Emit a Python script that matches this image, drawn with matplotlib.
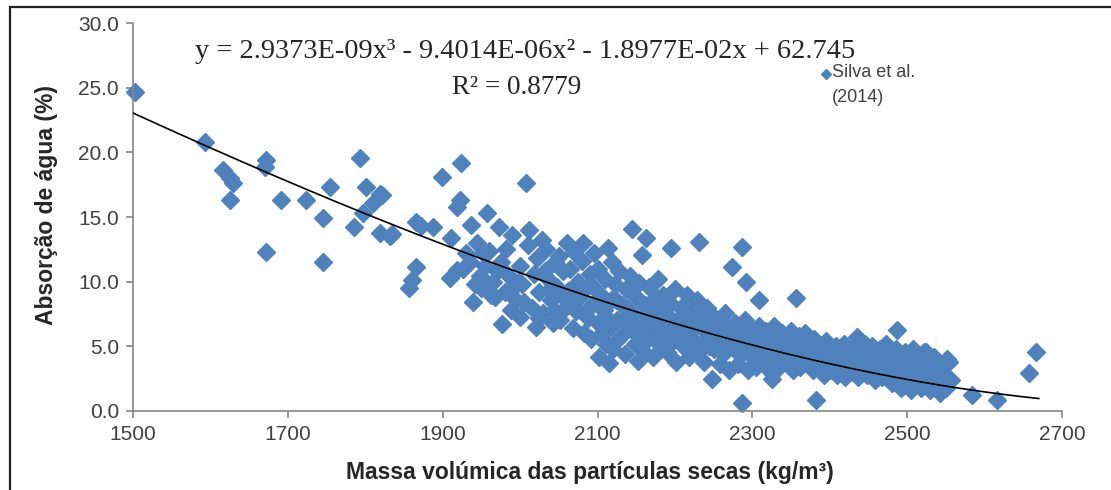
import numpy as np
import matplotlib.pyplot as plt
from matplotlib.lines import Line2D
from matplotlib.patches import Rectangle

# dry particle density (kg/m3) and water absorption (%)
dens_left = [1503, 1593, 1616, 1625, 1629, 1625, 1672, 1670, 1672, 1691, 1723, 1745, 1745, 1754,
             1786, 1797, 1793, 1801, 1810, 1819, 1819, 1822, 1832, 1835]
abs_left = [24.7, 20.8, 18.6, 18.0, 17.6, 16.3, 19.4, 18.9, 12.3, 16.3, 16.3, 11.5, 14.9, 17.3,
            14.2, 15.3, 19.6, 17.3, 16.1, 16.8, 13.8, 16.7, 13.5, 13.7]

dens_mid = [1857, 1861, 1866, 1866, 1872, 1887, 1899, 1909, 1911, 1918, 1918, 1922, 1924, 1930,
            1935, 1937, 1939, 1944, 1948, 1950, 1955, 1957, 1960, 1965, 1968, 1973, 1975, 1977,
            1980, 1982, 1985, 1988, 1990, 1995, 2000, 2000, 2003, 2008, 2010, 2012, 2015, 2018,
            2020, 2022, 2025, 2028, 2030, 2034, 2036, 2040, 2042, 2045, 2048,
            1926, 1942, 1952, 1963, 1970, 1992, 1998, 2005, 2024, 2032, 2038, 2044]
abs_mid = [9.5, 10.1, 11.1, 14.6, 14.3, 14.2, 18.1, 10.3, 13.4, 10.9, 15.8, 16.3, 19.2, 12.2,
           11.5, 14.4, 8.4, 13.0, 10.4, 9.5, 11.2, 15.3, 12.4, 10.0, 8.8, 14.2, 11.5, 6.7,
           9.2, 12.5, 10.5, 7.8, 13.6, 8.6, 7.3, 11.2, 9.8, 17.6, 12.8, 14.0, 8.0, 10.6,
           6.5, 11.8, 9.2, 13.2, 7.6, 12.5, 10.2, 8.6, 6.8, 11.5, 9.6,
           11.0, 9.8, 12.2, 9.0, 10.8, 9.6, 10.0, 8.4, 7.2, 10.8, 9.4, 7.8]

dens_band = [2050, 2052, 2055, 2058, 2060, 2062, 2065, 2068, 2070, 2072, 2075, 2078, 2080, 2081,
             2083, 2085, 2088, 2090, 2092, 2095, 2097, 2100, 2100, 2102, 2105, 2108, 2110, 2111,
             2113, 2115, 2115, 2118, 2119, 2120, 2122, 2125, 2128, 2130, 2132, 2135, 2137, 2140,
             2142, 2144, 2145, 2148, 2150, 2152, 2154, 2155, 2157, 2158, 2160, 2162, 2163, 2165,
             2167, 2170, 2172, 2175, 2178, 2180, 2182, 2185, 2188, 2190, 2192, 2195, 2196, 2198,
             2200, 2202, 2205, 2208, 2210, 2212, 2215, 2218, 2220, 2222, 2225, 2228, 2230, 2231,
             2233, 2236, 2238, 2240, 2242, 2245, 2248, 2250, 2252, 2255, 2258, 2260, 2262, 2265,
             2268, 2270, 2272, 2274, 2276, 2278, 2280, 2282, 2285, 2287, 2287, 2288, 2290, 2292,
             2293, 2295, 2298, 2300, 2302, 2305, 2308, 2309, 2310, 2313, 2315, 2318, 2320, 2322,
             2325, 2326, 2328, 2330, 2333, 2335, 2338, 2340, 2343, 2345, 2348, 2350, 2352, 2355,
             2357, 2358, 2360, 2362, 2365, 2368, 2370, 2372, 2375, 2378, 2380, 2382, 2383, 2385,
             2388, 2390, 2393, 2395, 2398, 2400, 2403, 2405, 2408, 2410, 2412, 2415, 2418, 2420,
             2423, 2425, 2428, 2430, 2433, 2435, 2437, 2440, 2442, 2445, 2448, 2450, 2452, 2455,
             2458, 2460, 2462, 2465, 2468, 2470, 2473, 2475, 2478, 2480, 2483, 2485, 2487, 2488,
             2490, 2492, 2495, 2497, 2500, 2502, 2505, 2508, 2510, 2512, 2515, 2518, 2520, 2522,
             2524, 2526, 2528, 2530, 2533, 2535, 2538, 2540, 2543, 2545, 2548, 2550, 2552, 2554,
             2556]
abs_band = [12.0, 7.0, 10.8, 8.0, 13.0, 9.3, 11.0, 6.4, 12.3, 7.7, 10.0, 8.8, 11.6, 13.0,
            6.0, 9.5, 7.2, 10.6, 5.6, 12.2, 8.4, 6.8, 11.0, 4.2, 9.0, 7.8, 10.2, 5.2,
            12.6, 3.7, 6.4, 8.6, 11.5, 4.8, 9.8, 7.0, 10.8, 5.8, 8.2, 4.4, 9.4, 6.6,
            10.4, 14.1, 7.6, 5.2, 8.8, 3.9, 9.9, 6.0, 12.1, 7.2, 4.6, 8.2, 13.4, 5.6,
            9.6, 6.8, 4.2, 8.0, 10.2, 5.2, 7.2, 9.0, 6.2, 4.6, 8.4, 12.6, 7.0, 5.4,
            9.4, 3.8, 6.4, 8.0, 5.0, 7.4, 9.0, 4.2, 6.0, 7.8, 5.4, 8.6, 4.6, 13.1,
            6.6, 7.4, 3.8, 5.6, 8.0, 6.6, 2.5, 4.8, 7.2, 5.8, 3.6, 6.8, 4.4, 7.6,
            5.4, 3.2, 6.2, 11.1, 4.8, 6.8, 5.6, 3.6, 6.0, 12.7, 0.6, 4.6, 7.0, 10.0,
            5.2, 3.2, 6.2, 4.2, 5.6, 3.4, 6.6, 8.6, 4.6, 5.8, 3.8, 6.2, 4.8, 3.2,
            5.4, 2.5, 6.6, 4.2, 5.0, 3.4, 6.0, 4.6, 3.8, 5.4, 4.0, 6.2, 3.2, 5.0,
            8.7, 4.2, 5.8, 3.4, 4.8, 6.0, 3.8, 5.2, 4.4, 3.2, 5.6, 0.85, 4.0, 5.0,
            3.6, 4.6, 2.8, 5.4, 4.0, 3.2, 4.8, 3.6, 5.0, 2.8, 4.2, 3.4, 5.2, 2.6,
            4.4, 3.6, 4.8, 3.0, 4.0, 5.7, 2.6, 4.6, 3.4, 5.2, 2.8, 4.2, 3.6, 5.0,
            2.4, 4.4, 3.2, 4.8, 2.6, 3.8, 5.2, 3.0, 4.4, 2.2, 3.6, 4.8, 6.3, 2.8,
            4.0, 1.8, 3.2, 4.6, 2.4, 3.8, 1.6, 4.8, 3.0, 2.2, 4.2, 1.8, 3.4, 4.6,
            4.6, 2.6, 3.8, 1.6, 3.0, 4.2, 2.2, 3.4, 1.4, 2.6, 3.6, 1.8, 4.0, 3.8,
            2.4]

# extra samples filling the dense core of the cloud
dens_core = [2056, 2064, 2074, 2086, 2094, 2104, 2106, 2112, 2124, 2126, 2134, 2138, 2146, 2151,
             2156, 2164, 2168, 2174, 2176, 2184, 2186, 2194, 2204, 2206, 2214, 2216, 2224, 2226,
             2234, 2244, 2246, 2254, 2256, 2264, 2266, 2275, 2284, 2286, 2296, 2304, 2306, 2314,
             2324, 2334, 2344, 2354, 2364, 2374, 2384, 2394, 2404, 2414, 2424, 2434, 2444, 2454,
             2464, 2474, 2484, 2494, 2504, 2514, 2534, 2544]
abs_core = [8.8, 8.2, 9.0, 7.8, 9.6, 8.0, 6.0, 7.2, 8.6, 5.6, 7.0, 8.0, 6.2, 7.0,
            8.4, 6.8, 7.6, 5.8, 8.8, 6.6, 7.8, 5.8, 7.0, 5.6, 6.4, 7.6, 6.8, 4.8,
            7.2, 5.0, 7.0, 6.2, 5.0, 5.8, 6.6, 5.8, 5.0, 6.4, 5.4, 6.0, 4.8, 5.2,
            4.6, 5.8, 5.0, 4.6, 5.4, 4.2, 4.8, 3.8, 4.2, 4.4, 3.8, 4.4, 3.8, 4.2,
            3.6, 3.6, 4.0, 3.6, 3.2, 3.6, 2.8, 3.0]

dens_right = [2584, 2616, 2657, 2667]
abs_right = [1.2, 0.85, 2.9, 4.6]

series_name = 'Silva et al.\n(2014)'

# cubic trendline coefficients (highest order first)
coef = [2.9373E-09, -9.4014E-06, -1.8977E-02, 62.745]
r2 = 0.8779

dens = np.array(dens_left + dens_mid + dens_band + dens_core + dens_right, dtype=float)
absorb = np.array(abs_left + abs_mid + abs_band + abs_core + abs_right, dtype=float)

blue = '#4F81BD'
W, H = 1111, 490
fig = plt.figure(figsize=(W / 100, H / 100), dpi=100)
ax = fig.add_axes([133 / W, 1 - 411 / H, (1062 - 133) / W, (411 - 23) / H])

ax.plot(dens, absorb, 'D', color=blue, ms=9.5, mec=blue, clip_on=False, zorder=2)

xx = np.linspace(1500, 2670, 300)
ax.plot(xx, np.polyval(coef, xx), color='black', lw=1.2, zorder=3)

ax.set_xlim(1500, 2700)
ax.set_ylim(0, 30)
ax.set_xticks(np.arange(1500, 2701, 200))
ax.set_yticks(np.arange(0, 30.1, 5))
ax.set_yticklabels(['%.1f' % v for v in np.arange(0, 30.1, 5)])

for s in ['top', 'right']:
    ax.spines[s].set_visible(False)
for s in ['left', 'bottom']:
    ax.spines[s].set_color('#868686')
    ax.spines[s].set_linewidth(1.2)
ax.tick_params(direction='out', length=5, width=1.2, color='#868686',
               labelsize=15, labelcolor='#404040', pad=5)
for lab in ax.get_xticklabels() + ax.get_yticklabels():
    lab.set_family('Liberation Sans')

fig.text(47 / W, 1 - 205 / H, 'Absorção de água (%)', rotation=90, ha='center', va='center',
         family='Liberation Sans', weight='bold', fontsize=16.5, color='#262626')
fig.text(590 / W, 1 - 472 / H, 'Massa volúmica das partículas secas (kg/m³)', ha='center',
         va='center', family='Liberation Sans', weight='bold', fontsize=16.5, color='#262626')

eq = 'y = %.4fE-09x³ - %.4fE-06x² - %.4fE-02x + %.3f' % (
    coef[0] * 1e9, -coef[1] * 1e6, -coef[2] * 1e2, coef[3])
fig.text(525 / W, 1 - 52 / H, eq, ha='center', va='center',
         family='Liberation Serif', fontsize=20.5, color='#262626')
fig.text(517 / W, 1 - 87 / H, 'R² = %.4f' % r2, ha='center', va='center',
         family='Liberation Serif', fontsize=19.5, color='#262626')

# legend entry: small diamond next to the first line of the series name
fig.add_artist(Line2D([826 / W], [1 - 74 / H], marker='D', ls='none', color=blue, ms=5,
                      transform=fig.transFigure))
fig.text(832 / W, 1 - 64 / H, series_name, ha='left', va='top', linespacing=1.6,
         family='Liberation Sans', fontsize=13, color='#404040')

# outer chart frame
fig.patches.append(Rectangle((10 / W, -0.2), 1.2, 1.2 - 7 / H, transform=fig.transFigure,
                             fill=False, ec='#222222', lw=1.6))

fig.savefig('out.png', dpi=100)
